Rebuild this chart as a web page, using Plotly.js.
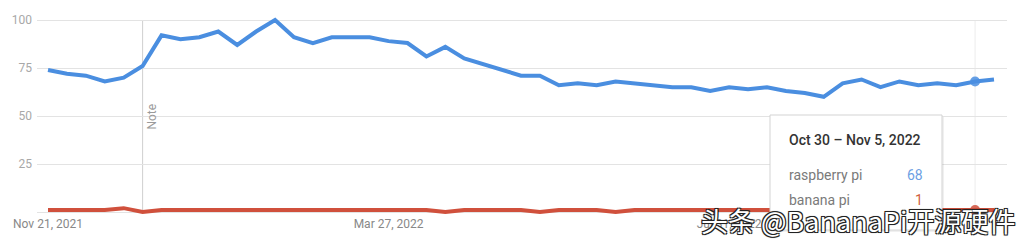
<!DOCTYPE html>
<html>
<head>
<meta charset="utf-8">
<script src="https://cdn.plot.ly/plotly-3.0.1.min.js"></script>
<style>html,body{margin:0;padding:0;background:#fff;}#chart{width:1024px;height:244px;}</style>
</head>
<body>
<div id="chart"></div>
<script>
// ---- data (weekly, Google Trends style) ----
var startDate = "2021-11-21";
var seriesNames = ["raspberry pi", "banana pi"];
var raspberryPi = [74,72,71,68,70,76,92,90,91,94,87,94,100,91,88,91,91,91,89,88,81,86,80,77,74,71,71,66,67,66,68,67,66,65,65,63,65,64,65,63,62,60,67,69,65,68,66,67,66,68,69];
var bananaPi    = [1,1,1,1,2,0,1,1,1,1,1,1,1,1,1,1,1,1,1,1,1,0,1,1,1,1,0,1,1,1,0,1,1,1,1,1,1,1,1,1,1,1,1,1,1,1,1,1,1,1,1];
var tickDates = ["2021-11-21", "2022-03-27", "2022-07-31"];
var tickLabels = ["Nov 21, 2021", "Mar 27, 2022", "Jul 31, 2022"];
var yTicks = [25, 50, 75, 100];
var noteIndex = 5;
var hoverIndex = 49;
var hoverTitle = "Oct 30 \u2013 Nov 5, 2022";
var watermark = "\u5934\u6761 @BananaPi\u5f00\u6e90\u786c\u4ef6";

// ---- build dates ----
var DAY = 86400000;
var t0 = Date.parse(startDate + "T00:00:00Z");
var dates = raspberryPi.map(function(_, i){ return new Date(t0 + i*7*DAY).toISOString().slice(0,10); });

var blue = "#4a8ee0", red = "#d0503c";

// ---- geometry ----
var W = 1024, H = 244, mL = 37, mR = 17, mT = 16, mB = 29;
var pw = W - mL - mR, ph = H - mT - mB;
function px(x){ return (x - mL)/pw; }
function py(y){ return (H - mB - y)/ph; }

var traces = [
  {x: dates, y: raspberryPi, name: seriesNames[0], type: "scatter", mode: "lines",
   line: {color: blue, width: 4, shape: "linear"}, hoverinfo: "skip"},
  {x: dates, y: bananaPi, name: seriesNames[1], type: "scatter", mode: "lines",
   line: {color: red, width: 4}, hoverinfo: "skip"},
  {x: [dates[hoverIndex]], y: [raspberryPi[hoverIndex]], type: "scatter", mode: "markers",
   marker: {color: blue, size: 10, opacity: 0.85}, hoverinfo: "skip", showlegend: false},
  {x: [dates[hoverIndex]], y: [bananaPi[hoverIndex]], type: "scatter", mode: "markers",
   marker: {color: red, size: 10, opacity: 0.85}, hoverinfo: "skip", showlegend: false}
];

var xr0 = new Date(t0 - 0.582*7*DAY).toISOString();
var xr1 = new Date(t0 + 50.687*7*DAY).toISOString();

var layout = {
  width: W, height: H,
  margin: {l: mL, r: mR, t: mT, b: mB, pad: 0},
  paper_bgcolor: "#fff", plot_bgcolor: "#fff",
  showlegend: false,
  font: {family: "Roboto, Arial, sans-serif", size: 12, color: "#9a9a9a"},
  xaxis: {type: "date", range: [xr0, xr1], showgrid: false, zeroline: false, showline: false,
          tickmode: "array", tickvals: tickDates, ticktext: tickLabels, ticks: "",
          tickfont: {size: 12, color: "#888"}, fixedrange: true},
  yaxis: {range: [-1.5625, 102.083], tickmode: "array", tickvals: [0].concat(yTicks),
          ticktext: [""].concat(yTicks.map(String)), ticks: "", showgrid: true,
          gridcolor: "#e3e3e3", gridwidth: 1, zeroline: false, showline: false,
          tickfont: {size: 12, color: "#a8a8a8"}, ticklabelstandoff: 4, fixedrange: true},
  shapes: [
    {type: "line", xref: "x", yref: "y", x0: dates[noteIndex], x1: dates[noteIndex], y0: 0, y1: 100,
     line: {color: "#cfcfcf", width: 1}, layer: "below"},
    {type: "line", xref: "x", yref: "y", x0: dates[hoverIndex], x1: dates[hoverIndex], y0: 0, y1: 100,
     line: {color: "#ececec", width: 1}, layer: "below"},
    {type: "rect", xref: "paper", yref: "paper", x0: px(771), x1: px(944), y0: py(117), y1: py(232),
     fillcolor: "rgba(0,0,0,0.06)", line: {width: 0}, layer: "above"},
    {type: "rect", xref: "paper", yref: "paper", x0: px(770), x1: px(942), y0: py(115), y1: py(230),
     fillcolor: "#ffffff", line: {color: "#d3d3d3", width: 1}, layer: "above"}
  ],
  annotations: [
    {text: "Note", xref: "x", yref: "y", x: dates[noteIndex], y: 49.5, xshift: 9, textangle: -90,
     showarrow: false, font: {size: 12, color: "#9a9a9a"}},
    {text: hoverTitle, xref: "paper", yref: "paper", x: px(787), y: py(140), xanchor: "left", yanchor: "middle",
     showarrow: false, font: {size: 14, color: "#333", weight: 500}},
    {text: seriesNames[0], xref: "paper", yref: "paper", x: px(787), y: py(175), xanchor: "left", yanchor: "middle",
     showarrow: false, font: {size: 14, color: "#7a7a7a"}},
    {text: String(raspberryPi[hoverIndex]), xref: "paper", yref: "paper", x: px(925), y: py(175), xanchor: "right", yanchor: "middle",
     showarrow: false, font: {size: 14, color: "#6d9fe3"}},
    {text: seriesNames[1], xref: "paper", yref: "paper", x: px(787), y: py(200), xanchor: "left", yanchor: "middle",
     showarrow: false, font: {size: 14, color: "#7a7a7a"}},
    {text: String(bananaPi[hoverIndex]), xref: "paper", yref: "paper", x: px(925), y: py(200), xanchor: "right", yanchor: "middle",
     showarrow: false, font: {size: 14, color: "#d0603c"}},
    {text: watermark, xref: "paper", yref: "paper", x: px(1017), y: py(221), xanchor: "right", yanchor: "middle",
     showarrow: false,
     font: {family: "Noto Sans CJK SC, sans-serif", size: 27, color: "#ffffff",
            shadow: "-1px -1px 0 #222, 1px -1px 0 #222, -1px 1px 0 #222, 1px 1px 0 #222, 0 0 2px #000"}}
  ]
};

Plotly.newPlot("chart", traces, layout, {displayModeBar: false, staticPlot: true});
</script>
</body>
</html>
